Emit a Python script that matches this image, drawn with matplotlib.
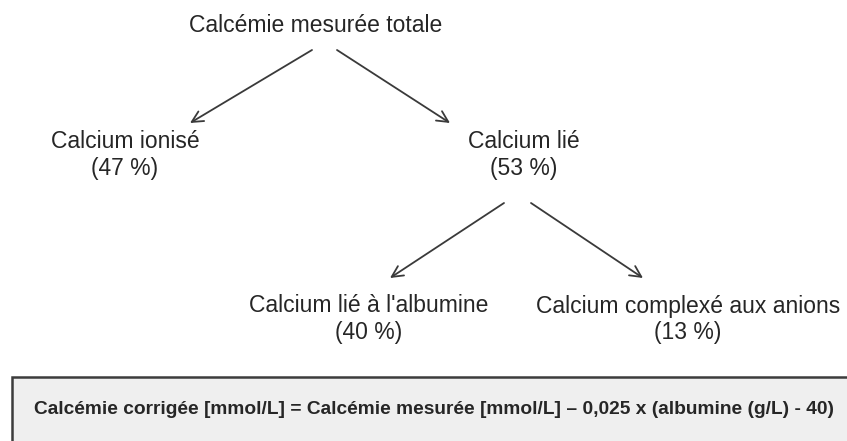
import matplotlib.pyplot as plt
from matplotlib.patches import Rectangle

# node labels and their share of the total calcium
labels = ["Calcémie mesurée totale", "Calcium ionisé", "Calcium lié",
          "Calcium lié à l'albumine", "Calcium complexé aux anions"]
percents = [None, 47, 53, 40, 13]
formula = "Calcémie corrigée [mmol/L] = Calcémie mesurée [mmol/L] – 0,025 x (albumine (g/L) - 40)"

# layout in pixels (x centre, y centre of the label line)
node_x = [316, 125, 524, 369, 688]
node_y = [25, 141, 141, 306, 306]
arrows = [((312, 50), (190, 123)), ((337, 50), (450, 123)),
          ((504, 203), (390, 278)), ((531, 203), (643, 278))]

W, H = 847, 441
fig = plt.figure(figsize=(W / 100, H / 100), dpi=100)
ax = fig.add_axes([0, 0, 1, 1])
ax.set_xlim(0, W)
ax.set_ylim(H, 0)
ax.axis("off")

plt.rcParams["font.family"] = ["Liberation Sans", "DejaVu Sans"]
txt_color = "#262626"

for lab, pct, x, y in zip(labels, percents, node_x, node_y):
    ax.text(x, y, lab, ha="center", va="center", fontsize=16.5, color=txt_color)
    if pct is not None:
        ax.text(x, y + 27, f"({pct} %)", ha="center", va="center",
                fontsize=16.5, color=txt_color)

for (x0, y0), (x1, y1) in arrows:
    ax.annotate("", xy=(x1, y1), xytext=(x0, y0),
                arrowprops=dict(arrowstyle="->", color="#3a3a3a", lw=1.3,
                                mutation_scale=20, shrinkA=0, shrinkB=0))

# formula box (runs off the right and bottom edges)
box = Rectangle((12, 377), 900, 120, facecolor="#efefef",
                edgecolor="#3c3c3c", linewidth=1.8, clip_on=True)
ax.add_patch(box)
ax.text(434, 410, formula, ha="center", va="center", fontsize=13.8,
        fontweight="bold", color=txt_color)

fig.savefig("out.png", dpi=100)
